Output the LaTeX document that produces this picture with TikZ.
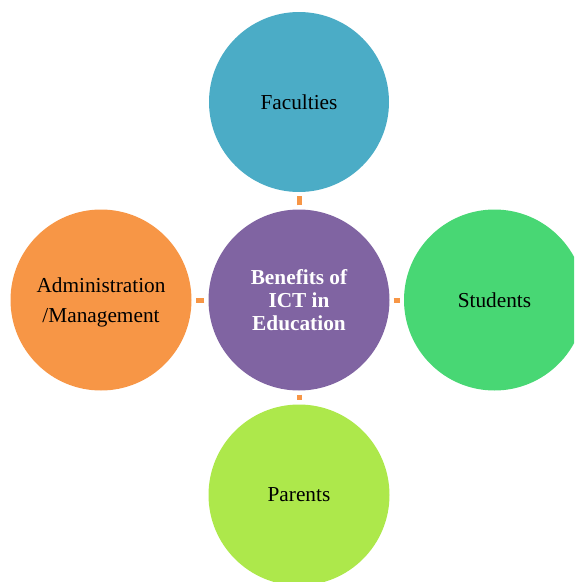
\documentclass[tikz,border=0pt]{standalone}
\usepackage{fontspec}
\setmainfont{Liberation Serif}
\definecolor{cteal}{HTML}{4BACC6}
\definecolor{cpurple}{HTML}{8064A2}
\definecolor{corange}{HTML}{F79646}
\definecolor{cgreen}{HTML}{48D774}
\definecolor{clime}{HTML}{ADE84B}
\tikzset{
  bubble/.style={circle, draw=none, minimum size=181pt, inner sep=0pt, align=center,
    font=\fontsize{21.3pt}{23pt}\selectfont, text=black},
  hub/.style={bubble, fill=cpurple, text=white, font=\fontsize{21.3pt}{23pt}\selectfont\bfseries},
  link/.style={draw=corange, line width=5pt, shorten >=4pt, shorten <=4pt}
}
\begin{document}
\begin{tikzpicture}[x=1pt,y=-1pt]
\useasboundingbox (0,0) rectangle (574,582);
\clip (0,0) rectangle (574,582);
\node[hub] (c) at (299,300) {Benefits of\\ICT in\\Education};
\node[bubble, fill=cteal, minimum size=180pt] (t) at (299,102) {Faculties};
\node[bubble, fill=corange] (l) at (101,300) {};
\node[font=\fontsize{21.3pt}{30.5pt}\selectfont, align=center, inner sep=0pt] (lt) at (101,302.5) {Administration\\/Management};
\node[bubble, fill=cgreen] (r) at (494.5,300) {Students};
\node[bubble, fill=clime] (b) at (299,495) {Parents};
\draw[link] (c) -- (t);
\draw[link] (c) -- (l);
\draw[link] (c) -- (r);
\draw[link] (c) -- (b);
\end{tikzpicture}
\end{document}
